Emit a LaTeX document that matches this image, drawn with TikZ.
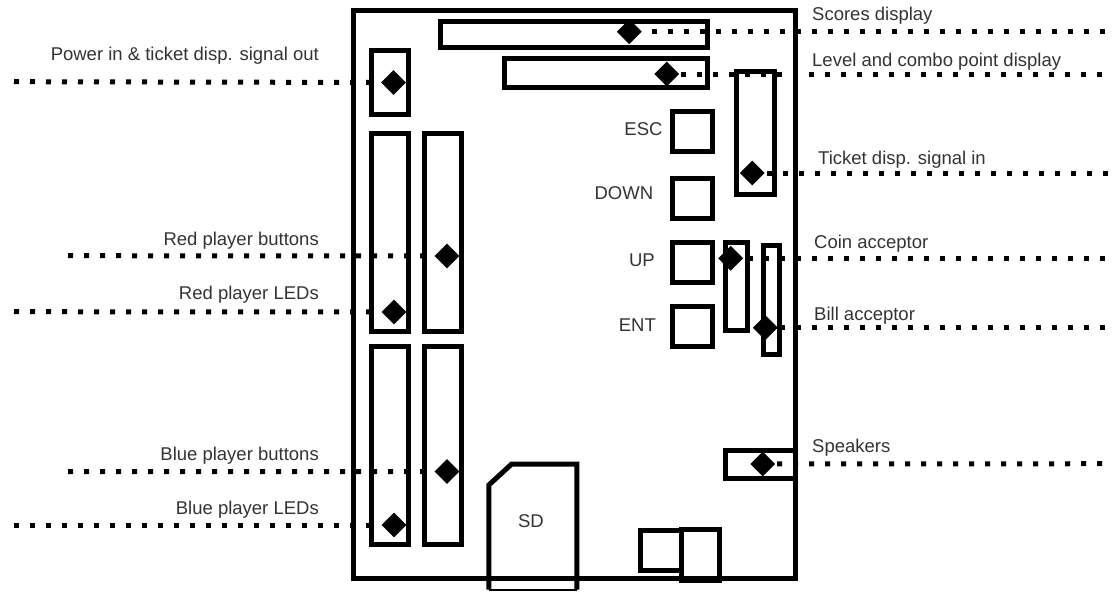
\documentclass[tikz,border=0pt]{standalone}
\usepackage{fontspec}
\setmainfont{Liberation Sans}
\usetikzlibrary{shapes.geometric}
\tikzstyle{part}=[rectangle,draw=black,line width=5pt,inner sep=0pt,outer sep=0pt]
\tikzstyle{pin}=[diamond,fill=black,aspect=1,inner sep=0pt,minimum size=25pt]
\tikzstyle{wire}=[line width=5pt,dash pattern=on 5pt off 11pt]
\tikzstyle{lbl}=[inner sep=0pt,text=black!80,font=\fontsize{18.5}{22}\selectfont]
\tikzstyle{lblleft}=[lbl,anchor=base east]
\tikzstyle{lblright}=[lbl,anchor=base west]

\begin{document}
\begin{tikzpicture}[x=1pt,y=-1pt]
    \useasboundingbox (0,0) rectangle (1113,592);

    \node[part,minimum width=442.7pt,minimum height=567.9pt] (board) at (574.35,294.75) {};
    \node[part,minimum width=266.5pt,minimum height=26pt] (scores) at (574.2,34.5) {};
    \node[part,minimum width=202.5pt,minimum height=29.5pt] (level) at (606.2,73.2) {};
    \node[part,minimum width=37pt,minimum height=64pt] (power) at (390,82.5) {};
    \node[part,minimum width=37pt,minimum height=198pt] (redleds) at (390,232) {};
    \node[part,minimum width=37pt,minimum height=198pt] (redbtns) at (443.3,232) {};
    \node[part,minimum width=37pt,minimum height=198pt] (blueleds) at (390,445) {};
    \node[part,minimum width=37pt,minimum height=198pt] (bluebtns) at (443.3,445) {};
    \node[part,minimum width=40pt,minimum height=40pt] (esc) at (692.8,131.8) {};
    \node[part,minimum width=40pt,minimum height=40pt] (down) at (692.8,198.5) {};
    \node[part,minimum width=40pt,minimum height=40pt] (up) at (692.8,262.7) {};
    \node[part,minimum width=40pt,minimum height=40pt] (ent) at (692.8,326.7) {};
    \node[part,minimum width=37.4pt,minimum height=122.4pt] (ticket) at (755.5,133) {};
    \node[part,minimum width=21.7pt,minimum height=88.3pt] (coin) at (736.7,286.7) {};
    \node[part,minimum width=16.3pt,minimum height=109pt] (bill) at (771.7,299.7) {};
    \node[part,minimum width=70.5pt,minimum height=28pt] (speakers) at (760.5,464.8) {};
    \node[part,minimum width=40.7pt,minimum height=40pt] (usb) at (661.1,550.8) {};
    \node[part,minimum width=37.7pt,minimum height=51pt] (jack) at (700.3,555.3) {};

    \draw[line width=5pt] (488.8,589.5) -- (488.8,485) -- (511.7,464) -- (576.8,464) -- (576.8,589.5);
    \draw[line width=2pt] (488.8,590) -- (576.8,590);

    \node[pin] (scorespin) at (629.3,31.7) {};
    \node[pin] (levelpin) at (666.7,74) {};
    \node[pin] (powerpin) at (393.5,82.5) {};
    \node[pin] (redbtnspin) at (447,256) {};
    \node[pin] (redledspin) at (394,312) {};
    \node[pin] (bluebtnspin) at (447,471.5) {};
    \node[pin] (blueledspin) at (394,525) {};
    \node[pin] (ticketpin) at (752.3,173) {};
    \node[pin] (coinpin) at (730.7,258.3) {};
    \node[pin] (billpin) at (765.3,327.7) {};
    \node[pin] (speakerspin) at (762.7,464) {};

    \coordinate (scoresend) at (1105,31.7);
    \coordinate (levelend) at (1118,74);
    \coordinate (powerend) at (14,81.7);
    \coordinate (redbtnsend) at (68,255.7);
    \coordinate (redledsend) at (14,311.7);
    \coordinate (bluebtnsend) at (68,471.7);
    \coordinate (blueledsend) at (14,525);
    \coordinate (ticketend) at (1108,173);
    \coordinate (coinend) at (1105,258.3);
    \coordinate (billend) at (1105,327.7);
    \coordinate (speakersend) at (1118,463.7);

    \path[wire,draw=black] (scoresend) -- (scorespin);
    \path[wire,draw=black] (levelend) -- (levelpin);
    \path[wire,draw=black] (powerend) -- (powerpin);
    \path[wire,draw=black] (redbtnsend) -- (redbtnspin);
    \path[wire,draw=black] (redledsend) -- (redledspin);
    \path[wire,draw=black] (bluebtnsend) -- (bluebtnspin);
    \path[wire,draw=black] (blueledsend) -- (blueledspin);
    \path[wire,draw=black] (ticketend) -- (ticketpin);
    \path[wire,draw=black] (coinend) -- (coinpin);
    \path[wire,draw=black] (billend) -- (billpin);
    \path[wire,draw=black] (speakersend) -- (speakerspin);

    \node[lblleft] (powertxt) at (319,60) {Power in \& ticket disp. signal out};
    \node[lblleft] (redbtnstxt) at (319,245) {Red player buttons};
    \node[lblleft] (redledstxt) at (319,299) {Red player LEDs};
    \node[lblleft] (bluebtnstxt) at (319,460) {Blue player buttons};
    \node[lblleft] (blueledstxt) at (319,514) {Blue player LEDs};
    \node[lblright] (scorestxt) at (812,20.7) {Scores display};
    \node[lblright] (leveltxt) at (812,66.7) {Level and combo point display};
    \node[lblright] (tickettxt) at (818,164) {Ticket disp. signal in};
    \node[lblright] (cointxt) at (814,248) {Coin acceptor};
    \node[lblright] (billtxt) at (814,320) {Bill acceptor};
    \node[lblright] (speakerstxt) at (812,452.7) {Speakers};
    \node[lblleft] (esctxt) at (662.7,135.7) {ESC};
    \node[lblleft] (downtxt) at (653.3,199.3) {DOWN};
    \node[lblleft] (uptxt) at (655,266.7) {UP};
    \node[lblleft] (enttxt) at (656,331) {ENT};
    \node[lbl,anchor=base] (sdtxt) at (531,527.3) {SD};
\end{tikzpicture}
\end{document}
